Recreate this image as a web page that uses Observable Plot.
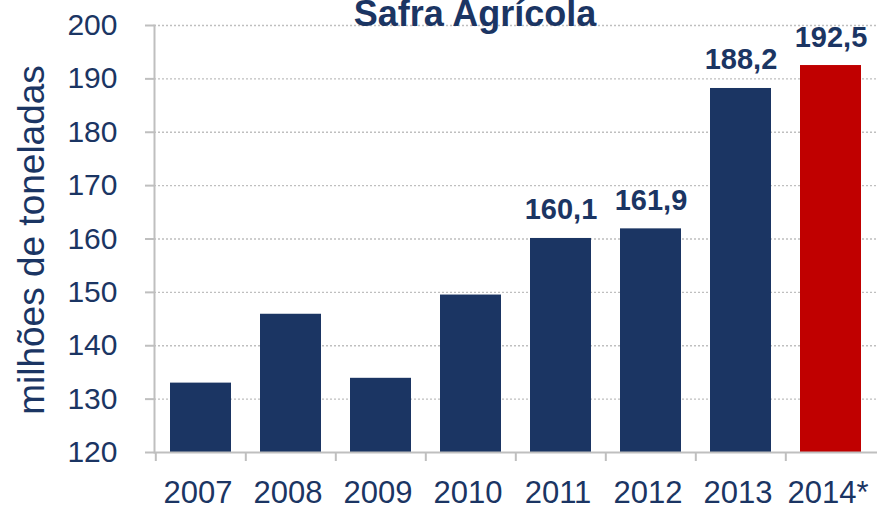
<!DOCTYPE html>
<html>
<head>
<meta charset="utf-8">
<script src="https://cdn.jsdelivr.net/npm/d3@7"></script>
<script src="https://cdn.jsdelivr.net/npm/@observablehq/plot@0.6"></script>
<style>
  html, body { margin: 0; padding: 0; background: #fff; }
  #chart svg { display: block; }
</style>
</head>
<body>
<div id="chart"></div>
<script>
const years = ["2007", "2008", "2009", "2010", "2011", "2012", "2013", "2014*"];
const values = [133.0, 145.9, 133.9, 149.5, 160.1, 161.9, 188.2, 192.5];
const labeledYears = ["2011", "2012", "2013", "2014*"];
const yTicks = [120, 130, 140, 150, 160, 170, 180, 190, 200];
const title = "Safra Agrícola";
const yLabel = "milhões de toneladas";

const data = years.map((year, i) => ({year, value: values[i]}));
const labeled = data.filter(d => labeledYears.includes(d.year));

const W = 877, H = 509;
const mL = 154, mR = 0, mT = 25, mB = 57;
const step = (W - mL - mR) / years.length;
const navy = "#1b3563";
const red = "#c00000";
const grey = "#bfbfbf";
const font = "Liberation Sans, Arial, Helvetica, sans-serif";

const fmt = v => v.toFixed(1).replace(".", ",");

const chart = Plot.plot({
  width: W,
  height: H,
  marginLeft: mL,
  marginRight: mR,
  marginTop: mT,
  marginBottom: mB,
  style: {fontFamily: font, color: navy, background: "#fff"},
  x: {domain: years, paddingInner: 0.325, paddingOuter: 0.1625, label: null},
  y: {domain: [120, 200], label: null},
  marks: [
    Plot.gridY(yTicks.slice(1), {stroke: grey, strokeOpacity: 1, strokeDasharray: "2,2", strokeWidth: 1.3}),
    Plot.barY(data, {x: "year", y1: 120, y2: "value", fill: d => d.year === "2014*" ? red : navy}),
    Plot.ruleY([120], {stroke: grey, strokeWidth: 2}),
    Plot.frame({anchor: "left", stroke: grey, strokeWidth: 2}),
    Plot.ruleX(years, {x: d => d, y1: 120, y2: 120, insetBottom: -9, dx: -step / 2, stroke: grey, strokeWidth: 2}),
    Plot.axisY({ticks: yTicks, tickSize: 9, tickPadding: 28, stroke: grey, strokeWidth: 2, fontSize: 30, fill: navy, tickFormat: d => String(d)}),
    Plot.axisX({tickSize: 0, tickPadding: 28, fontSize: 31, fill: navy, dx: -3}),
    Plot.text(labeled, {x: "year", y: "value", text: d => fmt(d.value), lineAnchor: "bottom", dy: -19, fontSize: 29, fontWeight: "bold", fill: navy}),
    Plot.text([title], {frameAnchor: "top", dx: -41, dy: 0, lineAnchor: "bottom", fontSize: 36, fontWeight: "bold", fill: navy}),
    Plot.text([yLabel], {frameAnchor: "left", rotate: -90, dx: -111, dy: 1, textAnchor: "middle", lineAnchor: "bottom", fontSize: 37, fill: navy})
  ]
});
document.getElementById("chart").appendChild(chart);
</script>
</body>
</html>
